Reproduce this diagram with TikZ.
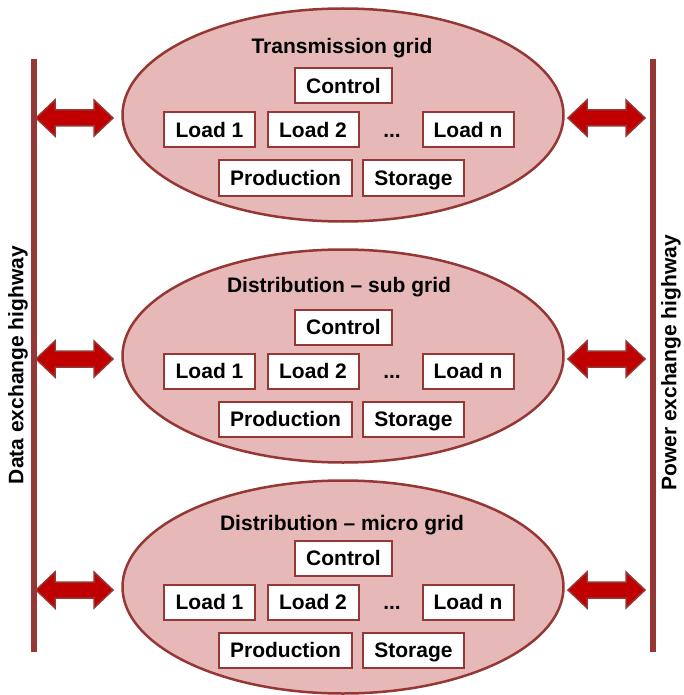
\documentclass[tikz,border=0pt]{standalone}
\usepackage{fontspec}
\setmainfont{Liberation Sans}
\usetikzlibrary{shapes.geometric}
\definecolor{rim}{HTML}{953735}
\definecolor{pinkfill}{HTML}{E6B9B8}
\definecolor{arrowred}{HTML}{C00000}
\tikzset{
  gridell/.style={ellipse, draw=rim, line width=2.5pt, fill=pinkfill,
    minimum width=441pt, minimum height=213pt, inner sep=0pt},
  box/.style={draw=rim, line width=2pt, fill=white, minimum height=35pt,
    inner sep=0pt, font=\fontsize{21}{25}\selectfont\bfseries,
    text height=16pt, text depth=1pt},
  ttl/.style={inner sep=0pt, anchor=base, font=\fontsize{21}{25}\selectfont\bfseries},
  hwy/.style={draw=rim, line width=6pt},
  hwytext/.style={inner sep=0pt, rotate=90, font=\fontsize{21}{25}\selectfont\bfseries},
  dbl/.style={draw=rim, line width=1.5pt, fill=arrowred, line join=miter},
  pics/dblarrow/.style={code={
    \draw[dbl] (0,0) -- (19,-18) -- (19,-8) -- (58,-8) -- (58,-18) -- (77,0)
      -- (58,18) -- (58,8) -- (19,8) -- (19,18) -- cycle;}},
}
\begin{document}
\begin{tikzpicture}[x=1pt,y=-1pt]
\useasboundingbox (0,0) rectangle (683,695);

% highways
\coordinate (dtop) at (33.5,59);
\coordinate (dbot) at (33.5,652);
\coordinate (ptop) at (653,59);
\coordinate (pbot) at (653,652);
\draw[hwy] (dtop) -- (dbot);
\draw[hwy] (ptop) -- (pbot);
\node[hwytext] (dtext) at (18,365) {Data exchange highway};
\node[hwytext] (ptext) at (671,363) {Power exchange highway};

% grids
\foreach \name/\cy/\ty/\tx/\title in {
  trans/115/46/342/{Transmission grid},
  sub/356/285/339/{Distribution – sub grid},
  micro/587/523/342/{Distribution – micro grid}}{
  \node[gridell] (\name) at (343,\cy) {};
  \node[ttl] (\name-title) at (\tx,\ty+7.5) {\title};
  \node[box, minimum width=97pt] (\name-control) at (343.5,\cy-29) {Control};
  \node[box, minimum width=91pt] (\name-load1) at (209.5,\cy+15) {Load 1};
  \node[box, minimum width=91pt] (\name-load2) at (313,\cy+15) {Load 2};
  \node[ttl] (\name-dots) at (392,\cy+22.5) {...};
  \node[box, minimum width=91pt] (\name-loadn) at (468,\cy+15) {Load n};
  \node[box, minimum width=133pt] (\name-prod) at (285.5,\cy+63) {Production};
  \node[box, minimum width=101pt] (\name-stor) at (413.5,\cy+63) {Storage};
  \pic (\name-larrow) at (36,\cy+3) {dblarrow};
  \pic (\name-rarrow) at (568,\cy+3) {dblarrow};
}
\end{tikzpicture}
\end{document}
